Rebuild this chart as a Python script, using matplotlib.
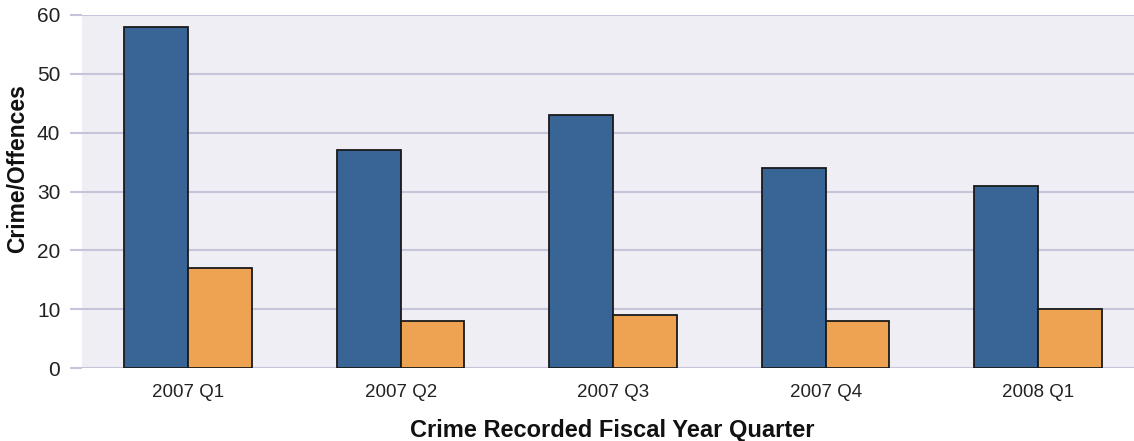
#!/usr/bin/env python3
"""Crime/Offences per fiscal year quarter, two series side by side."""

import numpy as np
import matplotlib
matplotlib.use("Agg")
import matplotlib.pyplot as plt

quarters = ["2007 Q1", "2007 Q2", "2007 Q3", "2007 Q4", "2008 Q1"]
series_a = [58, 37, 43, 34, 31]
series_b = [17, 8, 9, 8, 10]
y_ticks = [0, 10, 20, 30, 40, 50, 60]

plt.rcParams["font.family"] = ["Liberation Sans", "DejaVu Sans"]

W, H = 1134, 441
fig = plt.figure(figsize=(W / 100, H / 100), dpi=100)
# plot area: left 82px, top 15px, bottom 368px, runs off the right edge
ax = fig.add_axes([82 / W, (H - 368) / H, (W - 82) / W, (368 - 15) / H])

grid_col = "#c6c4da"
ax.set_facecolor("#efeef4")
ax.set_axisbelow(True)
ax.yaxis.grid(True, color=grid_col, linewidth=1.5)

x = np.arange(len(quarters))
bw = 0.3
ax.bar(x - bw / 2, series_a, bw, color="#386496", edgecolor="#1a1a1a", linewidth=1.3)
ax.bar(x + bw / 2, series_b, bw, color="#eea352", edgecolor="#1a1a1a", linewidth=1.3)

ax.set_xlim(-0.5, (1134 - 188) / 212.5)
ax.set_ylim(0, 60)
ax.set_yticks(y_ticks)
ax.set_xticks(x)
ax.set_xticklabels(quarters)

for s in ax.spines.values():
    s.set_visible(False)

ax.tick_params(axis="y", length=8.6, width=1.5, color=grid_col, pad=7,
               labelsize=15, labelcolor="#222222")
ax.tick_params(axis="x", length=0, pad=11.5, labelsize=13.5, labelcolor="#222222")

ax.set_xlabel("Crime Recorded Fiscal Year Quarter", fontsize=17,
              fontweight="bold", color="#111111", va="center")
ax.xaxis.set_label_coords((612 - 82) / (W - 82), (368 - 430) / 353)
ax.set_ylabel("Crime/Offences", fontsize=16.5, fontweight="bold",
              color="#111111", va="center")
ax.yaxis.set_label_coords((18 - 82) / (W - 82), (368 - 169) / 353)

fig.savefig("out.png", dpi=100)
